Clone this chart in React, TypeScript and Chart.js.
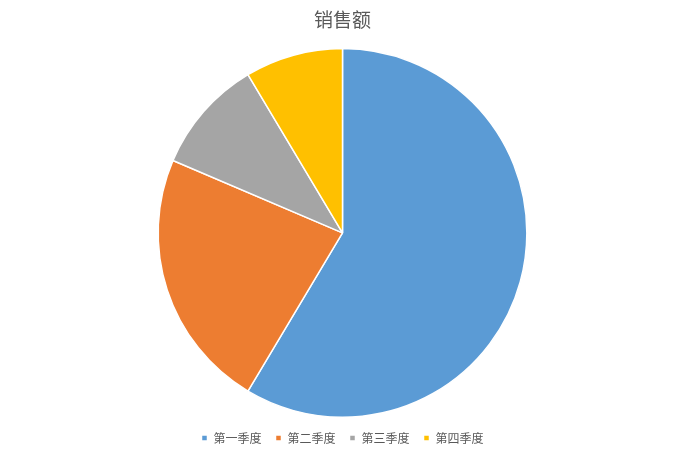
import { useEffect, useRef } from 'react';
import { Chart, registerables } from 'chart.js';

Chart.register(...registerables);

const quarters = ['第一季度', '第二季度', '第三季度', '第四季度'];
const sales = [8.2, 3.2, 1.4, 1.2];
const sliceColors = ['#5B9BD5', '#ED7D31', '#A5A5A5', '#FFC000'];

const FONT = '"Noto Sans CJK SC", "Noto Sans", sans-serif';

const App: React.FC = () => {
    const canvasRef = useRef<HTMLCanvasElement>(null);
    const chartRef = useRef<Chart | null>(null);

    useEffect(() => {
        document.body.style.margin = '0';
        if (!canvasRef.current) return;
        const ctx = canvasRef.current.getContext('2d');
        if (!ctx) return;

        if (chartRef.current) chartRef.current.destroy();

        chartRef.current = new Chart(ctx, {
            type: 'pie',
            data: {
                labels: quarters,
                datasets: [{
                    data: sales,
                    backgroundColor: sliceColors,
                    borderColor: '#ffffff',
                    borderWidth: 1.5,
                }]
            },
            options: {
                responsive: true,
                maintainAspectRatio: false,
                animation: false,
                layout: { padding: { top: 6, bottom: 1 } },
                plugins: {
                    title: {
                        display: true,
                        text: '销售额',
                        color: '#595959',
                        font: { family: FONT, size: 19, weight: 'normal' },
                        padding: { top: 2, bottom: 17 },
                    },
                    legend: {
                        position: 'bottom',
                        labels: {
                            color: '#595959',
                            font: { family: FONT, size: 12 },
                            boxWidth: 6,
                            boxHeight: 6,
                            padding: 14,
                        }
                    },
                    tooltip: { enabled: false },
                }
            }
        });

        return () => {
            if (chartRef.current) {
                chartRef.current.destroy();
                chartRef.current = null;
            }
        };
    }, []);

    return (
        <div style={{ position: 'absolute', left: 0, top: 0, width: 685, height: 455, background: '#ffffff' }}>
            <canvas ref={canvasRef}></canvas>
        </div>
    );
};

export default App;
